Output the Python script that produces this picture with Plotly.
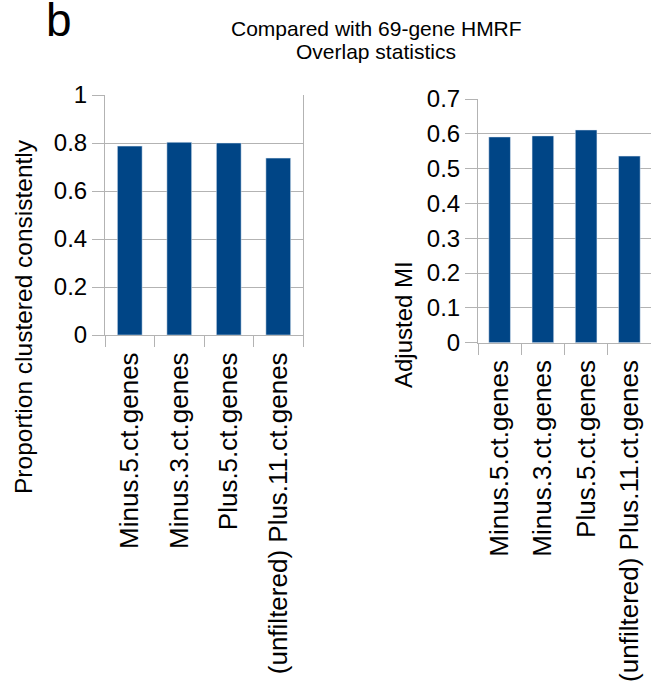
import plotly.graph_objects as go

categories = ["Minus.5.ct.genes", "Minus.3.ct.genes", "Plus.5.ct.genes",
              "(unfiltered)\u00a0Plus.11.ct.genes"]
proportion_consistent = [0.787, 0.803, 0.800, 0.737]
adjusted_mi = [0.591, 0.594, 0.611, 0.536]

W, H = 651, 691
BAR = "#004586"
GRID = "#b3b3b3"
FONT = "Liberation Sans"

def px_x(a, b):
    return [a / W, min(b / W, 1.0)]

def px_y(top, bottom):
    return [1 - bottom / H, 1 - top / H]

fig = go.Figure()
fig.add_trace(go.Bar(x=categories, y=proportion_consistent, marker_color=BAR,
                     xaxis="x", yaxis="y", showlegend=False))
fig.add_trace(go.Bar(x=categories, y=adjusted_mi, marker_color=BAR,
                     xaxis="x2", yaxis="y2", showlegend=False))

xcommon = dict(type="category", showgrid=False, showline=True, linecolor=GRID,
               linewidth=1, ticks="outside", ticklen=11, tickcolor=GRID,
               tickson="boundaries", tickangle=-90, automargin=False,
               ticklabelstandoff=6,
               tickfont=dict(family=FONT, size=26, color="#000"))
ycommon = dict(showgrid=True, gridcolor=GRID, gridwidth=1, showline=True,
               linecolor=GRID, linewidth=1, ticks="outside", ticklen=12,
               tickcolor=GRID, zeroline=False, automargin=False,
               tickfont=dict(family=FONT, size=24, color="#000"))

def ann(text, x, y, size, angle=0):
    return dict(text=text, x=x / W, y=1 - y / H, xref="paper", yref="paper",
                xanchor="center", yanchor="middle", showarrow=False,
                textangle=angle, font=dict(family=FONT, size=size, color="#000"))

fig.update_layout(
    width=W, height=H, margin=dict(l=0, r=0, t=0, b=0, autoexpand=False),
    paper_bgcolor="white", plot_bgcolor="white",
    bargap=0.5,
    font=dict(family=FONT, color="#000"),
    xaxis=dict(domain=px_x(105, 303), anchor="y", **xcommon),
    yaxis=dict(domain=px_y(95, 335), anchor="x", range=[0, 1],
               tickvals=[0, 0.2, 0.4, 0.6, 0.8, 1],
               ticktext=["0", "0.2", "0.4", "0.6", "0.8", "1"],
               mirror=True, **ycommon),
    xaxis2=dict(domain=px_x(478, 651.5), anchor="y2", **xcommon),
    yaxis2=dict(domain=px_y(99, 342.7), anchor="x2", range=[0, 0.7],
                tickvals=[0, 0.1, 0.2, 0.3, 0.4, 0.5, 0.6, 0.7],
                ticktext=["0", "0.1", "0.2", "0.3", "0.4", "0.5", "0.6", "0.7"],
                **ycommon),
    annotations=[
        ann("b", 59, 20, 46),
        ann("Compared with 69-gene HMRF", 376, 28.5, 21),
        ann("Overlap statistics", 376, 51.5, 21),
        ann("Proportion clustered consistently", 23, 317, 24.5, -90),
        ann("Adjusted MI", 403, 325, 24, -90),
    ],
)

fig.write_html("out.html", config={"displayModeBar": False})

with open("out.html", encoding="utf-8") as f:
    html = f.read()
html = html.replace("<head>", "<head><style>html,body{margin:0;padding:0;overflow:hidden;}</style>", 1)
with open("out.html", "w", encoding="utf-8") as f:
    f.write(html)
